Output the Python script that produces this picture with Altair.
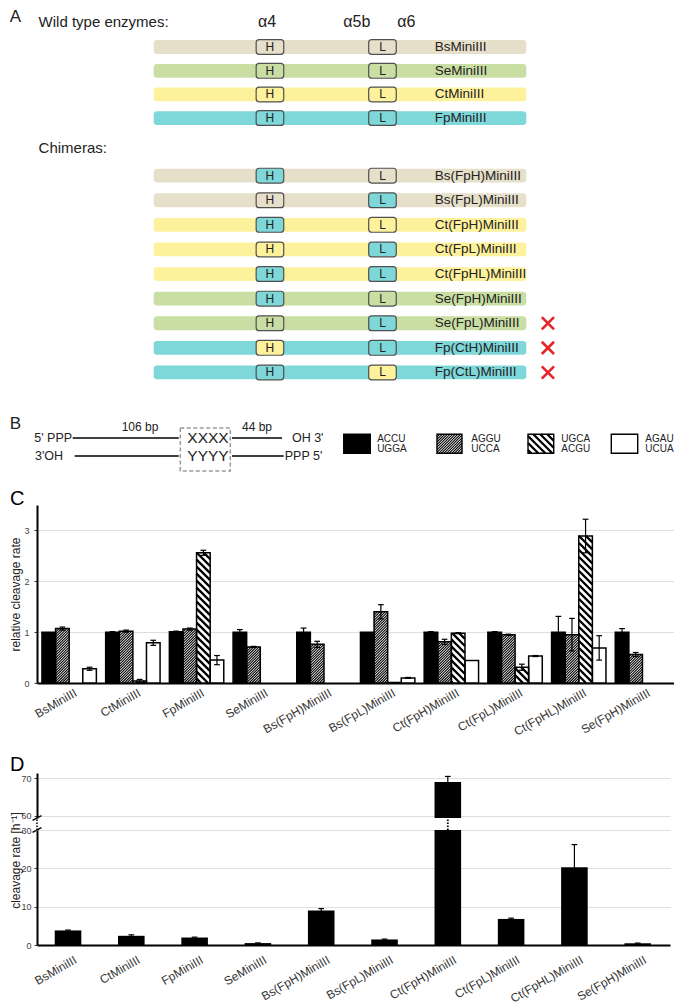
import json
import math
import altair as alt
import pandas as pd

# ===================== data =====================
enzymes = ["BsMiniIII", "CtMiniIII", "FpMiniIII", "SeMiniIII", "Bs(FpH)MiniIII",
           "Bs(FpL)MiniIII", "Ct(FpH)MiniIII", "Ct(FpL)MiniIII", "Ct(FpHL)MiniIII",
           "Se(FpH)MiniIII"]
substrate_top = ["ACCU", "AGGU", "UGCA", "AGAU"]
substrate_bottom = ["UGGA", "UCCA", "ACGU", "UCUA"]

# panel C: relative cleavage rate (None = not measured)
rel_ACCU = [1.00, 1.00, 1.01, 1.00, 1.00, 1.00, 1.00, 1.00, 1.00, 1.00]
rel_ACCU_err = [0.00, 0.01, 0.01, 0.05, 0.08, 0.00, 0.01, 0.01, 0.31, 0.07]
rel_AGGU = [1.07, 1.02, 1.06, 0.71, 0.76, 1.40, 0.81, 0.95, 0.95, 0.56]
rel_AGGU_err = [0.03, 0.02, 0.02, 0.01, 0.06, 0.14, 0.05, 0.01, 0.32, 0.04]
rel_UGCA = [None, 0.04, 2.56, None, None, 0.01, 0.98, 0.31, 2.89, None]
rel_UGCA_err = [None, 0.03, 0.05, None, None, 0.00, 0.01, 0.06, 0.33, None]
rel_AGAU = [0.28, 0.79, 0.45, None, None, 0.10, 0.44, 0.53, 0.69, None]
rel_AGAU_err = [0.03, 0.05, 0.09, None, None, 0.01, 0.00, 0.01, 0.24, None]

# panel D: cleavage rate [h-1]
rate = [3.8, 2.4, 1.95, 0.5, 9.0, 1.45, 69.0, 6.8, 20.3, 0.45]
rate_err = [0.1, 0.25, 0.1, 0.05, 0.5, 0.1, 1.5, 0.2, 5.9, 0.05]

# panel A: enzymes and chimeras
wt_names = ["BsMiniIII", "SeMiniIII", "CtMiniIII", "FpMiniIII"]
wt_body = ["Bs", "Se", "Ct", "Fp"]
chim_names = ["Bs(FpH)MiniIII", "Bs(FpL)MiniIII", "Ct(FpH)MiniIII", "Ct(FpL)MiniIII",
              "Ct(FpHL)MiniIII", "Se(FpH)MiniIII", "Se(FpL)MiniIII", "Fp(CtH)MiniIII",
              "Fp(CtL)MiniIII"]
chim_body = ["Bs", "Bs", "Ct", "Ct", "Ct", "Se", "Se", "Fp", "Fp"]
chim_H = ["Fp", "Bs", "Fp", "Ct", "Fp", "Fp", "Se", "Ct", "Fp"]
chim_L = ["Bs", "Fp", "Ct", "Fp", "Fp", "Se", "Fp", "Fp", "Ct"]
chim_inactive = [False, False, False, False, False, False, True, True, True]
helix_labels = ["\u03b14", "\u03b15b", "\u03b16"]

# ===================== layout / style =====================
FONT = "Liberation Sans, Arial, Helvetica, sans-serif"
SPECIES_COLOR = {"Bs": "#E6DFCA", "Se": "#C9DEA3", "Ct": "#FEF19B", "Fp": "#7ED7D9"}
RED = "#E3262A"
C_FILLS = ["black", "white", "white", "white"]
HATCH = {1: ("/", 2.6, 1.1), 2: ("\\", 7.0, 2.3)}   # substrate index -> (direction, step px, width)

W = 637
W_D = 633
H_A, H_B, H_C, H_S1, H_DU, H_S2, H_DL = 392, 105, 178, 90, 45, 12, 115

A_XDOM = [-31.32, 139.64]      # x in % of protein length
A_YDOM = [-1.585, 14.35]       # y in row units
B_YDOM = [-2.111, 3.722]       # y in strand units
PXU_A = W / (A_XDOM[1] - A_XDOM[0])
PYU_B = H_B / (B_YDOM[1] - B_YDOM[0])

C_YMAX = 3.5
PXU_C = W / 10
PYU_C = H_C / C_YMAX
C_START, C_BW, CAP = 0.078, 0.2135, 0.045

DU_DOM = [59.385, 71.417]
DL_DOM = [0, 30]
D_X0, D_X1 = 0.28, 0.70


def hatch(rect, to_px, from_px, step, direction, width):
    u0, u1, v0, v1 = rect
    X0, Y0 = to_px(u0, v0)
    X1, Y1 = to_px(u1, v1)
    xa, xb = sorted((X0, X1))
    ya, yb = sorted((Y0, Y1))
    out = []
    if direction == "/":
        c = math.ceil((xa + ya) / step) * step
        while c < xb + yb:
            lo, hi = max(ya, c - xb), min(yb, c - xa)
            if hi > lo:
                p, q = from_px(c - lo, lo), from_px(c - hi, hi)
                out.append({"hx0": p[0], "hy0": p[1], "hx1": q[0], "hy1": q[1], "sw": width})
            c += step
    else:
        c = math.ceil((xa - yb) / step) * step
        while c < xb - ya:
            lo, hi = max(ya, xa - c), min(yb, xb - c)
            if hi > lo:
                p, q = from_px(c + lo, lo), from_px(c + hi, hi)
                out.append({"hx0": p[0], "hy0": p[1], "hx1": q[0], "hy1": q[1], "sw": width})
            c += step
    return out


def panel_letter(t, size, dy=0):
    return alt.Chart(pd.DataFrame({"t": [t]})).mark_text(
        align="left", baseline="alphabetic", font=FONT, fontSize=size, color="black", dy=dy
    ).encode(x=alt.value(-27), y=alt.value(0), text="t:N")


# ===================== panel A =====================
def xa(f):
    return alt.X(f"{f}:Q", scale=alt.Scale(domain=A_XDOM, nice=False, zero=False), axis=None)


def ya(f):
    return alt.Y(f"{f}:Q", scale=alt.Scale(domain=A_YDOM, nice=False, zero=False, reverse=True), axis=None)


wt_rows = [0.0, 0.97, 1.93, 2.89]
chim_rows = [5.23 + i for i in range(len(chim_names))]
rows = pd.DataFrame({
    "name": wt_names + chim_names,
    "body": wt_body + chim_body,
    "H": wt_body + chim_H,
    "L": wt_body + chim_L,
    "row": wt_rows + chim_rows,
    "inactive": [False] * len(wt_names) + chim_inactive,
})
rows["fillc"] = rows["body"].map(SPECIES_COLOR)
rows["y0"] = rows["row"] - 0.28
rows["y1"] = rows["row"] + 0.28
rows["x0"] = 0.0
rows["x1"] = 100.0
rows["lx"] = 75.4
rows["xx"] = 105.8

box_recs = []
for _, r in rows.iterrows():
    for seg, (b0, b1) in (("H", (27.5, 34.9)), ("L", (57.7, 65.1))):
        box_recs.append({"seg": seg, "x0": b0, "x1": b1, "xc": (b0 + b1) / 2,
                         "y0": r["row"] - 0.30, "y1": r["row"] + 0.30, "row": r["row"],
                         "fillc": SPECIES_COLOR[r[seg]]})
boxes = pd.DataFrame(box_recs)

heads_left = pd.DataFrame({"t": ["A", "Wild type enzymes:", "Chimeras:"],
                           "x": [-38.6, -30.9, -30.9], "row": [-1.2, -1.03, 4.1],
                           "s": [17, 15, 15]})
heads_mid = pd.DataFrame({"t": helix_labels, "x": [30.4, 54.5, 67.8], "row": [-1.03] * 3})

A = alt.layer(
    alt.Chart(rows).mark_rect(cornerRadius=3).encode(
        x=xa("x0"), x2="x1", y=ya("y0"), y2="y1", fill=alt.Fill("fillc:N", scale=None)),
    alt.Chart(boxes).mark_rect(cornerRadius=3, stroke="#505050", strokeWidth=1.2).encode(
        x=xa("x0"), x2="x1", y=ya("y0"), y2="y1", fill=alt.Fill("fillc:N", scale=None)),
    alt.Chart(boxes).mark_text(fontSize=12, font=FONT, color="#222").encode(
        x=xa("xc"), y=ya("row"), text="seg:N"),
    alt.Chart(rows).mark_text(align="left", fontSize=13.5, font=FONT, color="#222").encode(
        x=xa("lx"), y=ya("row"), text="name:N"),
    alt.Chart(rows).transform_filter("datum.inactive").mark_point(
        shape="M-1,-1L1,1M1,-1L-1,1", size=150, filled=False, stroke=RED, strokeWidth=2.6,
        opacity=1).encode(x=xa("xx"), y=ya("row")),
    alt.Chart(heads_left).mark_text(align="left", font=FONT, color="#222").encode(
        x=xa("x"), y=ya("row"), text="t:N", size=alt.Size("s:Q", scale=None)),
    alt.Chart(heads_mid).mark_text(font=FONT, fontSize=16, color="#222").encode(
        x=xa("x"), y=ya("row"), text="t:N"),
).properties(width=W, height=H_A)

# ===================== panel B =====================
def yb(f):
    return alt.Y(f"{f}:Q", scale=alt.Scale(domain=B_YDOM, nice=False, zero=False, reverse=True), axis=None)


strands = pd.DataFrame({"x0": [-21.74, 21.01, -21.2, 21.01], "x1": [6.71, 34.43, 6.71, 34.89],
                        "row": [0, 0, 1, 1]})
b_left = pd.DataFrame({"t": ["5' PPP", "3'OH", "OH 3'", "PPP 5'"],
                       "x": [-32.05, -31.86, 37.1, 35.16], "row": [0, 1, 0, 1]})
b_mid = pd.DataFrame({"t": ["106 bp", "44 bp", "XXXX", "YYYY"],
                      "x": [-3.68, 27.72, 14.57, 14.57], "row": [-0.63, -0.63, 0, 1],
                      "s": [12, 12, 15.5, 15.5]})
b_box = pd.DataFrame({"x0": [7.14], "x1": [20.56], "y0": [-0.556], "y1": [1.833]})
b_letter = pd.DataFrame({"t": ["B"], "x": [-38.6], "row": [-0.78]})

sw_x0 = [51.0, 76.03, 100.46, 122.81]
sw_x1 = [58.13, 82.74, 107.36, 129.9]
sw_tx = [59.97, 85.24, 109.4, 131.94]
swatches = pd.DataFrame({"x0": sw_x0, "x1": sw_x1, "y0": -0.206, "y1": 0.85, "fillc": C_FILLS})
leg_text = pd.DataFrame({"t": substrate_top + substrate_bottom, "x": sw_tx + sw_tx,
                         "row": [0.04] * 4 + [0.59] * 4})


def b_to_px(u, v):
    return ((u - A_XDOM[0]) * PXU_A, (v - B_YDOM[0]) * PYU_B)


def b_from_px(X, Y):
    return (X / PXU_A + A_XDOM[0], Y / PYU_B + B_YDOM[0])


b_hatch = []
for k, (d, step, wd) in HATCH.items():
    b_hatch += hatch((sw_x0[k], sw_x1[k], -0.206, 0.85), b_to_px, b_from_px, step, d, wd)
b_hatch = pd.DataFrame(b_hatch)

B = alt.layer(
    alt.Chart(strands).mark_rule(color="black", strokeWidth=1.5).encode(
        x=xa("x0"), x2="x1", y=yb("row")),
    alt.Chart(b_box).mark_rect(fillOpacity=0, stroke="#9a9a9a", strokeWidth=1.5,
                               strokeDash=[4, 2.5]).encode(
        x=xa("x0"), x2="x1", y=yb("y0"), y2="y1"),
    alt.Chart(b_left).mark_text(align="left", font=FONT, fontSize=12.5, color="#222").encode(
        x=xa("x"), y=yb("row"), text="t:N"),
    alt.Chart(b_mid).mark_text(font=FONT, color="#222").encode(
        x=xa("x"), y=yb("row"), text="t:N", size=alt.Size("s:Q", scale=None)),
    alt.Chart(b_letter).mark_text(align="left", font=FONT, fontSize=17, color="#222").encode(
        x=xa("x"), y=yb("row"), text="t:N"),
    alt.Chart(swatches).mark_rect(strokeWidth=0).encode(
        x=xa("x0"), x2="x1", y=yb("y0"), y2="y1", fill=alt.Fill("fillc:N", scale=None)),
    alt.Chart(b_hatch).mark_rule(color="black").encode(
        x=xa("hx0"), x2="hx1", y=yb("hy0"), y2="hy1", strokeWidth=alt.StrokeWidth("sw:Q", scale=None)),
    alt.Chart(swatches).mark_rect(fillOpacity=0, stroke="black", strokeWidth=1.4).encode(
        x=xa("x0"), x2="x1", y=yb("y0"), y2="y1"),
    alt.Chart(leg_text).mark_text(align="left", font=FONT, fontSize=10, color="#222").encode(
        x=xa("x"), y=yb("row"), text="t:N"),
).properties(width=W, height=H_B)

# ===================== panel C =====================
rel_vals = [rel_ACCU, rel_AGGU, rel_UGCA, rel_AGAU]
rel_errs = [rel_ACCU_err, rel_AGGU_err, rel_UGCA_err, rel_AGAU_err]
c_recs = []
for i, enz in enumerate(enzymes):
    for k in range(4):
        v = rel_vals[k][i]
        if v is None:
            continue
        e = rel_errs[k][i] or 0.0
        x0 = i + C_START + k * C_BW
        xc = x0 + C_BW / 2
        c_recs.append({"enzyme": enz, "k": k, "x0": x0, "x1": x0 + C_BW, "xc": xc, "v": v,
                       "zero": 0.0, "e": e, "lo": v - e, "hi": v + e, "cl": xc - CAP,
                       "cr": xc + CAP, "fillc": C_FILLS[k]})
c_df = pd.DataFrame(c_recs)


def c_to_px(u, v):
    return (u * PXU_C, (C_YMAX - v) * PYU_C)


def c_from_px(X, Y):
    return (X / PXU_C, C_YMAX - Y / PYU_C)


c_hatch = []
for r in c_recs:
    if r["k"] in HATCH:
        d, step, wd = HATCH[r["k"]]
        c_hatch += hatch((r["x0"], r["x1"], 0.0, r["v"]), c_to_px, c_from_px, step, d, wd)
c_hatch = pd.DataFrame(c_hatch)

lab_expr = json.dumps(enzymes) + "[floor(datum.value)]"


def x_axis(pad):
    return alt.Axis(values=[i + 0.5 for i in range(10)], labelExpr=lab_expr, ticks=False,
                    grid=False, domainColor="black", domainWidth=2, labelAngle=330,
                    labelAlign="right", labelBaseline="top", labelFontSize=12,
                    labelColor="#333", labelPadding=pad, labelOffset=4, labelOverlap=False,
                    labelFlush=False, title=None, labelFont=FONT)


def y_axis(values, title=None, title_y=None, pad=3):
    kw = dict(values=values, grid=True, gridColor="#dedede", gridWidth=1, domainColor="black",
              domainWidth=2, ticks=True, tickColor="#444", tickSize=3, labelFontSize=9,
              labelColor="#444", labelPadding=pad, labelFlush=False, labelFont=FONT, title=title)
    if title is not None:
        kw.update(titleFontSize=12, titleFontWeight="normal", titleColor="#222", titleX=-15,
                  titleFont=FONT)
    if title_y is not None:
        kw.update(titleY=title_y)
    return alt.Axis(**kw)


XC_SCALE = alt.Scale(domain=[0, 10], nice=False, zero=False)
YC_SCALE = alt.Scale(domain=[0, C_YMAX], nice=False, zero=False)
AX_XC = x_axis(4)
AX_YC = y_axis([0, 1, 2, 3], "relative cleavage rate", pad=5)


def xc(f):
    return alt.X(f"{f}:Q", scale=XC_SCALE, axis=AX_XC)


def yc(f):
    return alt.Y(f"{f}:Q", scale=YC_SCALE, axis=AX_YC)


C = alt.layer(
    alt.Chart(c_df).mark_rect(strokeWidth=0).encode(
        x=xc("x0"), x2="x1", y=yc("v"), y2="zero", fill=alt.Fill("fillc:N", scale=None)),
    alt.Chart(c_hatch).mark_rule(color="black").encode(
        x=xc("hx0"), x2="hx1", y=yc("hy0"), y2="hy1", strokeWidth=alt.StrokeWidth("sw:Q", scale=None)),
    alt.Chart(c_df).mark_rect(fillOpacity=0, stroke="black", strokeWidth=1.5).encode(
        x=xc("x0"), x2="x1", y=yc("v"), y2="zero"),
    alt.Chart(c_df).transform_filter("datum.e > 0").mark_rule(color="black", strokeWidth=1.2).encode(
        x=xc("xc"), y=yc("lo"), y2="hi"),
    alt.Chart(c_df).transform_filter("datum.e > 0").mark_rule(color="black", strokeWidth=1.2).encode(
        x=xc("cl"), x2="cr", y=yc("hi")),
    alt.Chart(c_df).transform_filter("datum.e > 0").mark_rule(color="black", strokeWidth=1.2).encode(
        x=xc("cl"), x2="cr", y=yc("lo")),
    panel_letter("C", 20),
).properties(width=W, height=H_C)

# ===================== spacer =====================
S1 = alt.Chart(pd.DataFrame({"d": [0]})).mark_point(opacity=0).encode(
    x=alt.value(0), y=alt.value(0)).properties(width=W, height=H_S1)

# ===================== panel D (broken axis) =====================
d_df = pd.DataFrame({"enzyme": enzymes, "v": rate, "e": rate_err})
d_df["i"] = list(range(len(enzymes)))
d_df["x0"] = d_df["i"] + D_X0
d_df["x1"] = d_df["i"] + D_X1
d_df["xc"] = d_df["i"] + (D_X0 + D_X1) / 2
d_df["zero"] = 0.0
d_df["lo"] = d_df["v"] - d_df["e"]
d_df["hi"] = d_df["v"] + d_df["e"]
d_df["cl"] = d_df["xc"] - CAP
d_df["cr"] = d_df["xc"] + CAP

XD_SCALE = alt.Scale(domain=[0, 10], nice=False, zero=False)


def d_panel(dom, height, yaxis, xaxis, extra=None):
    ysc = alt.Scale(domain=dom, nice=False, zero=False)

    def xd(f):
        return alt.X(f"{f}:Q", scale=XD_SCALE, axis=xaxis)

    def yd(f):
        return alt.Y(f"{f}:Q", scale=ysc, axis=yaxis)

    keep = f"datum.v > {dom[0]} && datum.v <= {dom[1]}"
    layers = [
        alt.Chart(d_df).transform_filter(f"datum.v > {dom[0]}").mark_rect(
            color="black", clip=True).encode(x=xd("x0"), x2="x1", y=yd("v"), y2="zero"),
        alt.Chart(d_df).transform_filter(keep).mark_rule(color="black", strokeWidth=1.2).encode(
            x=xd("xc"), y=yd("lo"), y2="hi"),
        alt.Chart(d_df).transform_filter(keep).mark_rule(color="black", strokeWidth=1.2).encode(
            x=xd("cl"), x2="cr", y=yd("hi")),
    ]
    if extra is not None:
        layers.append(extra)
    return alt.layer(*layers).properties(width=W_D, height=height)


DU = d_panel(DU_DOM, H_DU, y_axis([60, 70]), None, panel_letter("D", 20, dy=-2))
DL = d_panel(DL_DOM, H_DL, y_axis([0, 10, 20, 30], "cleavage rate [h\u207b\u00b9]", 30), x_axis(9))

# gap between the two D segments: dotted continuation of the broken bar and of the axis
broken = d_df[d_df["v"] > DL_DOM[1]][["xc"]].copy()
broken["y0"] = 0.0
broken["y1"] = 1.0
gap_axis = pd.DataFrame({"x": [0.0], "y0": [0.0], "y1": [1.0]})
gap_slash = pd.DataFrame({"x0": [-0.07, -0.07], "x1": [0.07, 0.07], "y0": [0.8, -0.2], "y1": [1.2, 0.2]})


def xs(f):
    return alt.X(f"{f}:Q", scale=XD_SCALE, axis=None)


def ys(f):
    return alt.Y(f"{f}:Q", scale=alt.Scale(domain=[0, 1], nice=False, zero=False), axis=None)


S2 = alt.layer(
    alt.Chart(broken).mark_rule(color="black", strokeWidth=1.8, strokeDash=[1.5, 1.5]).encode(
        x=xs("xc"), y=ys("y0"), y2="y1"),
    alt.Chart(gap_axis).mark_rule(color="black", strokeWidth=1.5, strokeDash=[1.5, 1.5]).encode(
        x=xs("x"), y=ys("y0"), y2="y1"),
    alt.Chart(gap_slash).mark_rule(color="black", strokeWidth=1.3).encode(
        x=xs("x0"), x2="x1", y=ys("y0"), y2="y1"),
).properties(width=W_D, height=H_S2)

chart = alt.vconcat(A, B, C, S1, DU, S2, DL, spacing=0, bounds="flush").properties(
    padding={"left": 0, "right": 0, "top": 0, "bottom": 0}
).configure(font=FONT).configure_view(stroke=None)

chart.save("out.html", embed_options={"renderer": "svg", "actions": False})
